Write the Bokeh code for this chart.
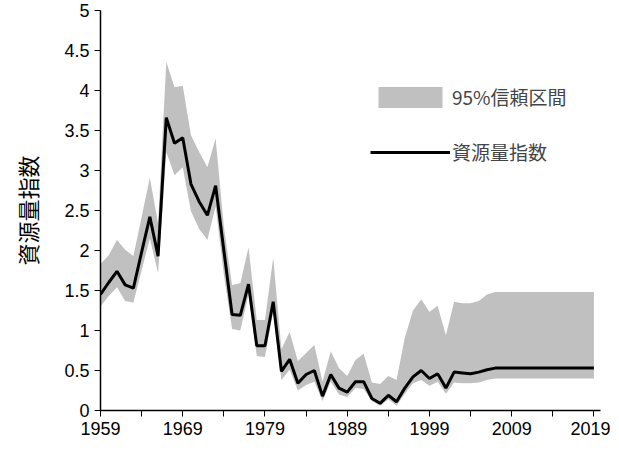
from bokeh.plotting import figure
from bokeh.models import Range1d, FixedTicker, Legend, LegendItem, ColumnDataSource
from bokeh.embed import file_html
from bokeh.resources import INLINE

anos = list(range(1959, 2020))
indice = [1.45, 1.60, 1.74, 1.57, 1.53, 1.98, 2.42, 1.93, 3.66, 3.34, 3.41, 2.83, 2.61, 2.44, 2.81, 2.00,
          1.20, 1.19, 1.58, 0.81, 0.81, 1.36, 0.49, 0.64, 0.34, 0.45, 0.50, 0.18, 0.45, 0.28, 0.23, 0.36,
          0.36, 0.15, 0.09, 0.19, 0.11, 0.28, 0.42, 0.50, 0.40, 0.46, 0.28, 0.48, 0.47, 0.46, 0.48, 0.51,
          0.53] + [0.53] * 12
superior = [1.83, 1.94, 2.13, 2.01, 1.93, 2.42, 2.91, 2.34, 4.36, 4.04, 4.06, 3.44, 3.23, 3.04, 3.40, 2.30,
            1.57, 1.59, 2.04, 1.13, 1.13, 1.91, 0.77, 0.98, 0.62, 0.72, 0.82, 0.36, 0.74, 0.53, 0.43, 0.63,
            0.71, 0.35, 0.33, 0.43, 0.38, 0.91, 1.25, 1.39, 1.23, 1.31, 0.94, 1.36, 1.34, 1.34, 1.37, 1.45,
            1.48] + [1.48] * 12
inferior = [1.30, 1.43, 1.54, 1.37, 1.35, 1.75, 2.15, 1.72, 3.23, 2.94, 3.04, 2.49, 2.27, 2.13, 2.55, 1.70,
            1.02, 1.00, 1.45, 0.68, 0.67, 1.23, 0.38, 0.51, 0.25, 0.32, 0.36, 0.12, 0.36, 0.20, 0.17, 0.28,
            0.27, 0.12, 0.06, 0.14, 0.06, 0.21, 0.34, 0.38, 0.31, 0.36, 0.21, 0.35, 0.34, 0.34, 0.35, 0.38,
            0.40] + [0.40] * 12

fonte = "Noto Sans CJK JP"
dados = ColumnDataSource(dict(x=anos, y=indice, sup=superior, inf=inferior))

grafico = figure(width=610, height=440, output_backend="svg", toolbar_location=None,
                 x_range=Range1d(1959, 2019.8), y_range=Range1d(0, 5))
grafico.min_border_left = 100
grafico.min_border_right = 10
grafico.min_border_top = 10
grafico.min_border_bottom = 30
grafico.outline_line_color = None
grafico.grid.grid_line_color = None

banda = grafico.varea(x="x", y1="inf", y2="sup", source=dados, fill_color="#c0c0c0")
linha = grafico.line(x="x", y="y", source=dados, line_color="black", line_width=3)

grafico.xaxis.ticker = FixedTicker(ticks=list(range(1959, 2020, 5)))
grafico.xaxis.major_label_overrides = {t: (str(t) if (t - 1959) % 10 == 0 else "") for t in range(1959, 2020, 5)}
grafico.yaxis.ticker = FixedTicker(ticks=[0, 0.5, 1, 1.5, 2, 2.5, 3, 3.5, 4, 4.5, 5])
grafico.yaxis.major_label_overrides = {0: "0", 1: "1", 2: "2", 3: "3", 4: "4", 5: "5"}
grafico.yaxis.axis_label = "資源量指数"
grafico.yaxis.axis_label_standoff = 18
for eixo in (grafico.xaxis, grafico.yaxis):
    eixo.minor_tick_line_color = None
    eixo.major_tick_in = 0
    eixo.major_tick_out = 6
    eixo.axis_line_color = "black"
    eixo.major_tick_line_color = "black"
    eixo.axis_line_width = 1.5
    eixo.major_label_text_font = "Liberation Sans"
    eixo.major_label_text_font_size = "18px"
    eixo.major_label_text_color = "black"
    eixo.axis_label_text_font = fonte
    eixo.axis_label_text_font_size = "22px"
    eixo.axis_label_text_font_style = "normal"
    eixo.axis_label_text_color = "black"

legenda = Legend(items=[LegendItem(label="95%信頼区間", renderers=[banda]),
                        LegendItem(label="資源量指数", renderers=[linha])],
                 location=(270, 245), border_line_color=None, background_fill_alpha=0,
                 label_text_font=fonte, label_text_font_size="19px", glyph_width=80, glyph_height=26,
                 spacing=28, label_standoff=2)
grafico.add_layout(legenda, "center")

open("out.html", "w").write(file_html(grafico, INLINE))
